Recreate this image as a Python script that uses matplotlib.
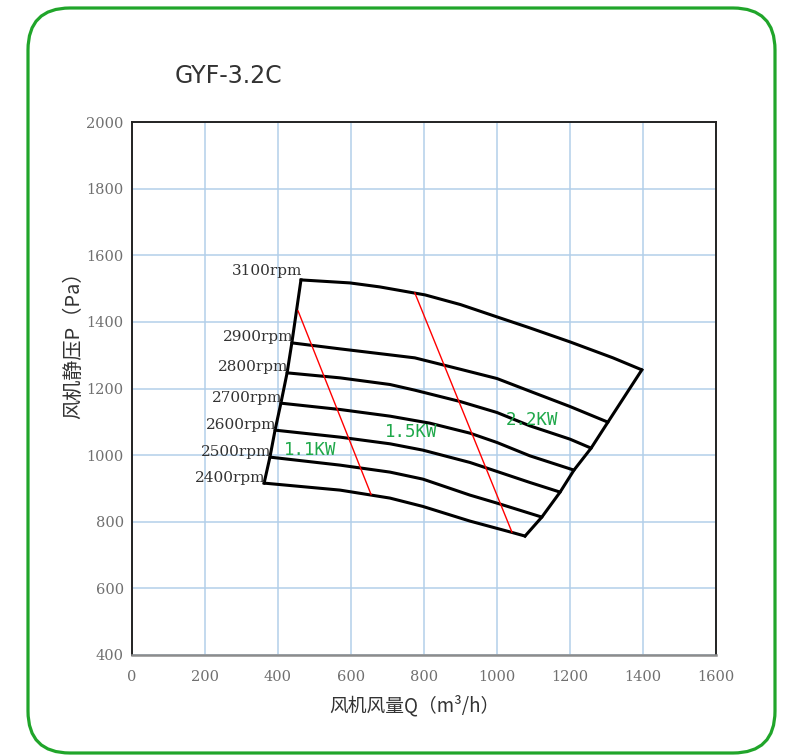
"""Fan performance chart for GYF-3.2C (static pressure vs air volume)."""

import matplotlib

matplotlib.use("Agg")

import matplotlib.pyplot as plt
from matplotlib.patches import FancyBboxPatch
from matplotlib.transforms import IdentityTransform

# speed curves: air volume Q (m3/h) and static pressure P (Pa)
speeds = ["3100rpm", "2900rpm", "2800rpm", "2700rpm", "2600rpm", "2500rpm", "2400rpm"]
q_3100 = [463, 597, 679, 803, 900, 1000, 1090, 1200, 1318, 1397]
p_3100 = [1526, 1517, 1505, 1481, 1452, 1415, 1382, 1340, 1292, 1256]
q_2900 = [438, 570, 707, 775, 899, 1000, 1090, 1200, 1304]
p_2900 = [1337, 1319, 1301, 1292, 1258, 1230, 1192, 1146, 1099]
q_2800 = [425, 570, 707, 775, 899, 1000, 1090, 1200, 1258]
p_2800 = [1247, 1232, 1212, 1195, 1161, 1128, 1088, 1048, 1021]
q_2700 = [408, 570, 707, 816, 926, 1000, 1090, 1211]
p_2700 = [1156, 1137, 1117, 1096, 1066, 1038, 998, 955]
q_2600 = [392, 570, 707, 797, 926, 1000, 1090, 1173]
p_2600 = [1075, 1054, 1034, 1015, 978, 951, 918, 889]
q_2500 = [378, 570, 707, 797, 926, 1000, 1123]
p_2500 = [994, 970, 949, 928, 880, 856, 814]
q_2400 = [362, 570, 707, 797, 926, 1041, 1077]
p_2400 = [916, 895, 871, 846, 802, 768, 757]

# motor power boundaries (red lines) and their labels
power_q = [[455, 655], [775, 1041]]
power_p = [[1433, 882], [1487, 769]]
power_labels = ["1.1KW", "1.5KW", "2.2KW"]
power_label_q = [488, 764, 1096]
power_label_p = [1015, 1069, 1105]

x_ticks = list(range(0, 1601, 200))
y_ticks = list(range(400, 2001, 200))

CJK = ["Noto Sans CJK SC", "DejaVu Sans"]
GREEN = "#1fa84a"


def main() -> None:
    curves_q = [q_3100, q_2900, q_2800, q_2700, q_2600, q_2500, q_2400]
    curves_p = [p_3100, p_2900, p_2800, p_2700, p_2600, p_2500, p_2400]

    fig = plt.figure(figsize=(7.87, 7.56), dpi=100)
    ax = fig.add_axes([0.1677, 0.1336, 0.742, 0.705])

    for q, p in zip(curves_q, curves_p):
        ax.plot(q, p, color="black", linewidth=2.2, solid_capstyle="round",
                solid_joinstyle="round", zorder=3)

    # left and right envelope through the curve ends
    ax.plot([q[0] for q in curves_q], [p[0] for p in curves_p],
            color="black", linewidth=2.2, solid_joinstyle="round", zorder=3)
    ax.plot([q[-1] for q in curves_q], [p[-1] for p in curves_p],
            color="black", linewidth=2.2, solid_joinstyle="round", zorder=3)

    for q, p in zip(power_q, power_p):
        ax.plot(q, p, color="red", linewidth=1.0, zorder=4)

    for name, q, p in zip(speeds, curves_q, curves_p):
        dy = 6.5 if name == "3100rpm" else 4
        ax.annotate(name, (q[0], p[0]), xytext=(1, dy), textcoords="offset points",
                    ha="right", va="center", fontsize=11, family="DejaVu Serif",
                    color="#333333", zorder=5)

    for label, q, p in zip(power_labels, power_label_q, power_label_p):
        ax.text(q, p, label, ha="center", va="center", fontsize=12.5,
                family="DejaVu Sans Mono", color=GREEN, zorder=5)

    ax.set_xlim(0, 1600)
    ax.set_ylim(400, 2000)
    ax.set_xticks(x_ticks)
    ax.set_yticks(y_ticks)
    ax.tick_params(length=0, labelsize=10.5, labelcolor="#707070")
    ax.tick_params(axis="x", pad=11)
    ax.tick_params(axis="y", pad=6)
    for lab in ax.get_xticklabels() + ax.get_yticklabels():
        lab.set_family("DejaVu Serif")

    ax.grid(True, color="#b3cfea", linewidth=1.1)
    ax.set_axisbelow(True)
    for side in ["left", "top", "right"]:
        ax.spines[side].set_color("#222222")
        ax.spines[side].set_linewidth(1.4)
    ax.spines["bottom"].set_color("#8c8c8c")
    ax.spines["bottom"].set_linewidth(1.8)

    ax.set_xlabel("风机风量Q（m³/h）", family=CJK, fontsize=13.5, color="#333333")
    ax.set_ylabel("风机静压P（Pa）", family=CJK, fontsize=14.5, color="#333333")
    ax.xaxis.set_label_coords(0.483, -0.075)
    ax.yaxis.set_label_coords(-0.082, 0.59)

    fig.text(0.29, 0.899, "GYF-3.2C", ha="center", va="center", fontsize=17,
             family="DejaVu Sans", color="#333333")

    border = FancyBboxPatch((28, 3), 747, 745,
                            boxstyle="round,pad=0,rounding_size=42",
                            transform=IdentityTransform(), fill=False,
                            edgecolor="#20a52a", linewidth=2.3)
    fig.add_artist(border)

    fig.savefig("out.png", dpi=100)
    plt.close(fig)


if __name__ == "__main__":
    main()
